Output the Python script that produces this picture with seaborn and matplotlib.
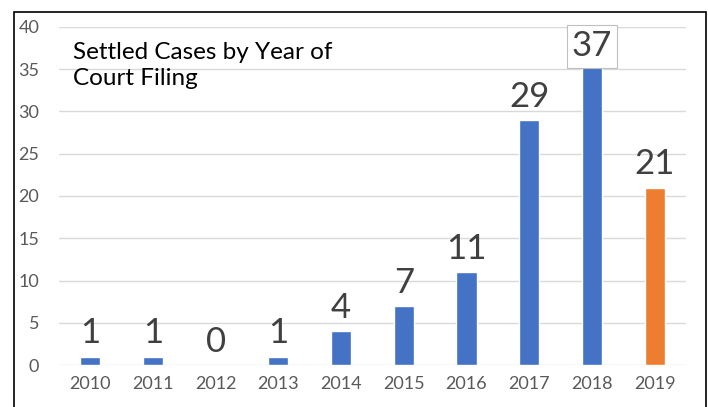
import pandas as pd
import seaborn as sns
import matplotlib.pyplot as plt
from matplotlib.patches import Rectangle

# Chart data
years = ['2010', '2011', '2012', '2013', '2014', '2015', '2016', '2017', '2018', '2019']
cases = [1, 1, 0, 1, 4, 7, 11, 29, 37, 21]
bar_colors = ['#4472C4'] * 9 + ['#ED7D31']

df = pd.DataFrame({'year': years, 'cases': cases})

sns.set_style('white')
plt.rcParams['font.family'] = ['Lato', 'DejaVu Sans']

fig = plt.figure(figsize=(7.08, 4.07), dpi=100)
ax = fig.add_axes([0.083, 0.103, 0.886, 0.831])

sns.barplot(data=df, x='year', y='cases', hue='year', palette=bar_colors,
            legend=False, width=0.32, ax=ax, saturation=1)

ax.set_ylim(0, 40)
ax.set_yticks(range(0, 41, 5))
ax.yaxis.grid(True, color='#d9d9d9', linewidth=1)
ax.set_axisbelow(True)
for s in ax.spines.values():
    s.set_visible(False)
ax.tick_params(axis='both', length=0, labelsize=13, colors='#595959', pad=8)
ax.tick_params(axis='y', pad=14)
ax.set_xlabel('')
ax.set_ylabel('')

# Data labels
for i, v in enumerate(cases):
    if v == 37:
        # the top label does not fit, so it sits in a box over the bar end
        ax.annotate(str(v), (i, v), xytext=(0, -3), textcoords='offset points',
                    ha='center', va='baseline', fontsize=25, color='#404040', zorder=5,
                    bbox=dict(boxstyle='square,pad=0.15', fc='white', ec='#bfbfbf', lw=0.8))
    else:
        ax.annotate(str(v), (i, v), xytext=(0, 9.5), textcoords='offset points',
                    ha='center', va='baseline', fontsize=25, color='#404040')

ax.text(0.022, 0.955, 'Settled Cases by Year of\nCourt Filing', transform=ax.transAxes,
        ha='left', va='top', fontsize=17.5, color='black', linespacing=1.3)

# Outer frame of the chart box
fig.patches.append(Rectangle((14 / 708, -0.05), 692 / 708, 1 - 12 / 407 + 0.05,
                             transform=fig.transFigure, fill=False, ec='black', lw=1.2))

fig.savefig('out.png', dpi=100)
